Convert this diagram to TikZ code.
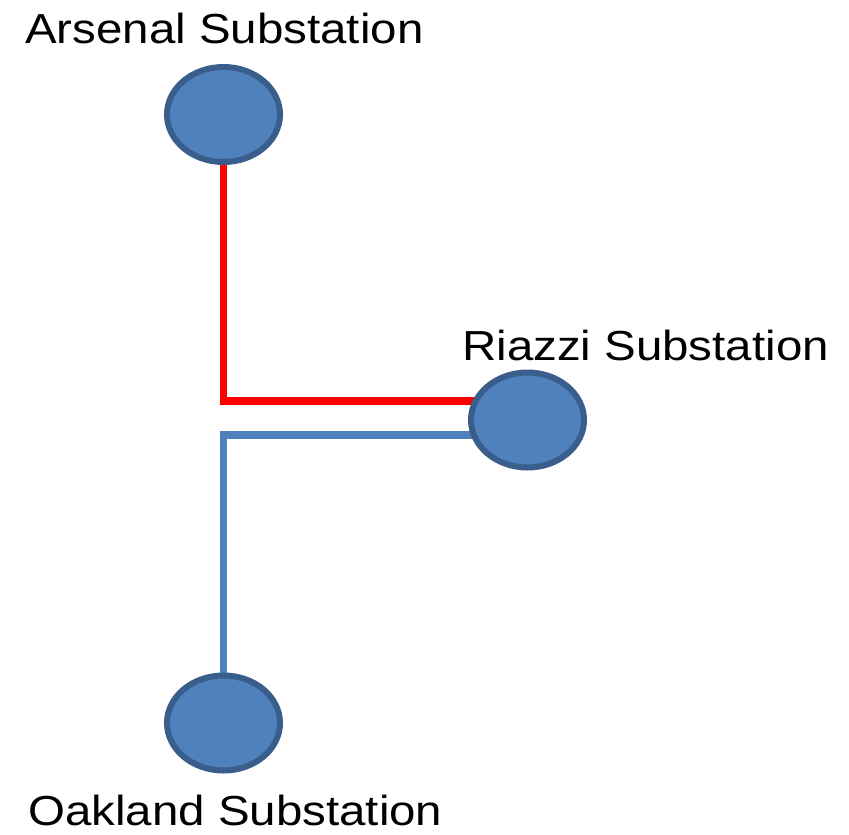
\documentclass[tikz,border=0pt]{standalone}
\usepackage{fontspec}
\setmainfont{Liberation Sans}
\usetikzlibrary{shapes.geometric,backgrounds}
\definecolor{stfill}{HTML}{4F81BD}
\definecolor{stborder}{HTML}{3A5E8C}
\definecolor{lineblue}{HTML}{4F81BD}
\begin{document}
\begin{tikzpicture}[x=1pt,y=-1pt,
  station/.style={ellipse,draw=stborder,fill=stfill,line width=6pt,minimum width=113pt,minimum height=95pt,inner sep=0pt},
  lbl/.style={anchor=base west,inner sep=0pt,font=\fontsize{42}{50}\selectfont},
  redline/.style={draw=red,line width=7.5pt},
  blueline/.style={draw=lineblue,line width=7.5pt}]
\useasboundingbox (0,0) rectangle (849,835);
\node[station] (ars) at (223.5,114.5) {};
\node[station] (riz) at (527.5,420) {};
\node[station] (oak) at (223.5,723) {};
\node[lbl] (arsl) at (25,43) {\scalebox{1.13}[1]{Arsenal Substation}};
\node[lbl] (rizl) at (462,360) {\scalebox{1.13}[1]{Riazzi Substation}};
\node[lbl] (oakl) at (28,825) {\scalebox{1.13}[1]{Oakland Substation}};
\begin{scope}[on background layer]
\draw[redline] (ars.center) |- ([yshift=19pt]riz.center);
\draw[blueline] ([yshift=-15pt]riz.center) -| (oak.center);
\end{scope}
\end{tikzpicture}
\end{document}
